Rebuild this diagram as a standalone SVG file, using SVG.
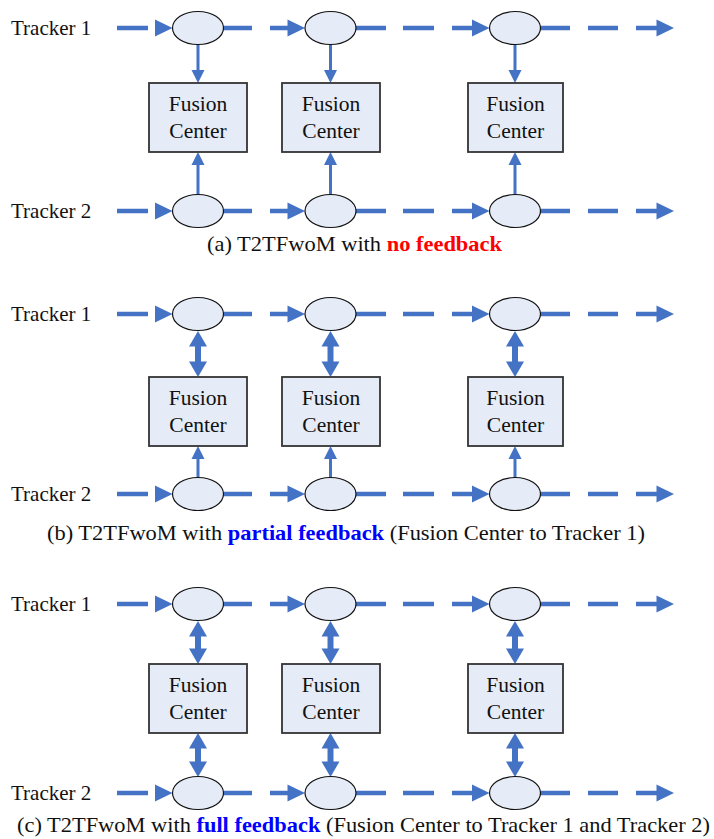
<svg xmlns="http://www.w3.org/2000/svg" xmlns:xlink="http://www.w3.org/1999/xlink" width="714" height="839" viewBox="0 0 714 839">
<style>
.lbl{font-family:"Liberation Serif","Times New Roman",serif;font-size:21px;fill:#111}
.fc{font-family:"Liberation Serif","Times New Roman",serif;font-size:21.5px;fill:#111;text-anchor:middle}
.cap{font-family:"Liberation Serif","Times New Roman",serif;font-size:21.5px;fill:#111}
.red{fill:#FF0000;font-weight:bold}
.blu{fill:#0000FF;font-weight:bold}
.node{fill:#E6ECF7;stroke:#111;stroke-width:1.2}
.box{fill:#E6ECF7;stroke:#333;stroke-width:1.8}
.hl{fill:none;stroke:#4472C4;stroke-width:4.5}
.tl{fill:none;stroke:#4472C4;stroke-width:3}
.dl{fill:none;stroke:#4472C4;stroke-width:6}
.ah{fill:#4472C4}
</style>
<defs>
<polygon id="ah" class="ah" points="0,0 -17.5,-8.5 -17.5,8.5"/>
<polygon id="tv" class="ah" points="0,0 -6.5,-13 6.5,-13"/>
<polygon id="dv" class="ah" points="0,0 -9,-15.5 9,-15.5"/>
</defs>

<g id="connectors">
  <!-- horizontal dashed tracker lines -->
  <path class="hl" d="M117,28H148M223,28H252M270,28H290M355,28H386M403,28H434M452,28H474M540,28H570M588,28H618M636,28H659"/>
  <path class="hl" d="M117,211H148M223,211H252M270,211H290M355,211H386M403,211H434M452,211H474M540,211H570M588,211H618M636,211H659"/>
  <path class="hl" d="M117,314H148M223,314H252M270,314H290M355,314H386M403,314H434M452,314H474M540,314H570M588,314H618M636,314H659"/>
  <path class="hl" d="M117,494H148M223,494H252M270,494H290M355,494H386M403,494H434M452,494H474M540,494H570M588,494H618M636,494H659"/>
  <path class="hl" d="M117,604H148M223,604H252M270,604H290M355,604H386M403,604H434M452,604H474M540,604H570M588,604H618M636,604H659"/>
  <path class="hl" d="M117,793H148M223,793H252M270,793H290M355,793H386M403,793H434M452,793H474M540,793H570M588,793H618M636,793H659"/>
  <g>
    <use href="#ah" x="172.5" y="28"/><use href="#ah" x="305" y="28"/><use href="#ah" x="489.5" y="28"/><use href="#ah" x="674" y="28"/>
    <use href="#ah" x="172.5" y="211"/><use href="#ah" x="305" y="211"/><use href="#ah" x="489.5" y="211"/><use href="#ah" x="674" y="211"/>
    <use href="#ah" x="172.5" y="314"/><use href="#ah" x="305" y="314"/><use href="#ah" x="489.5" y="314"/><use href="#ah" x="674" y="314"/>
    <use href="#ah" x="172.5" y="494"/><use href="#ah" x="305" y="494"/><use href="#ah" x="489.5" y="494"/><use href="#ah" x="674" y="494"/>
    <use href="#ah" x="172.5" y="604"/><use href="#ah" x="305" y="604"/><use href="#ah" x="489.5" y="604"/><use href="#ah" x="674" y="604"/>
    <use href="#ah" x="172.5" y="793"/><use href="#ah" x="305" y="793"/><use href="#ah" x="489.5" y="793"/><use href="#ah" x="674" y="793"/>
  </g>
  <!-- (a) thin arrows -->
  <path class="tl" d="M198,44V72M330.5,44V72M515,44V72"/>
  <use href="#tv" x="198" y="83"/><use href="#tv" x="330.5" y="83"/><use href="#tv" x="515" y="83"/>
  <path class="tl" d="M198,195V163M330.5,195V163M515,195V163"/>
  <use href="#tv" transform="translate(198,152) rotate(180)"/><use href="#tv" transform="translate(330.5,152) rotate(180)"/><use href="#tv" transform="translate(515,152) rotate(180)"/>
  <!-- (b) double arrows up, thin arrows bottom -->
  <path class="dl" d="M198,345V363M330.5,345V363M515,345V363"/>
  <use href="#dv" transform="translate(198,331) rotate(180)"/><use href="#dv" x="198" y="377"/>
  <use href="#dv" transform="translate(330.5,331) rotate(180)"/><use href="#dv" x="330.5" y="377"/>
  <use href="#dv" transform="translate(515,331) rotate(180)"/><use href="#dv" x="515" y="377"/>
  <path class="tl" d="M198,478V457M330.5,478V457M515,478V457"/>
  <use href="#tv" transform="translate(198,446) rotate(180)"/><use href="#tv" transform="translate(330.5,446) rotate(180)"/><use href="#tv" transform="translate(515,446) rotate(180)"/>
  <!-- (c) double arrows -->
  <path class="dl" d="M198,635V650M330.5,635V650M515,635V650M198,747V763M330.5,747V763M515,747V763"/>
  <use href="#dv" transform="translate(198,621) rotate(180)"/><use href="#dv" x="198" y="664"/>
  <use href="#dv" transform="translate(330.5,621) rotate(180)"/><use href="#dv" x="330.5" y="664"/>
  <use href="#dv" transform="translate(515,621) rotate(180)"/><use href="#dv" x="515" y="664"/>
  <use href="#dv" transform="translate(198,733) rotate(180)"/><use href="#dv" x="198" y="777"/>
  <use href="#dv" transform="translate(330.5,733) rotate(180)"/><use href="#dv" x="330.5" y="777"/>
  <use href="#dv" transform="translate(515,733) rotate(180)"/><use href="#dv" x="515" y="777"/>
</g>

<!-- Panel (a) -->
<g id="a-tracker1-label"><text class="lbl" x="11" y="35">Tracker 1</text></g>
<g id="a-tracker2-label"><text class="lbl" x="11" y="218">Tracker 2</text></g>
<g id="a-t1-e1"><ellipse class="node" cx="198" cy="28" rx="25.5" ry="16.5"/></g>
<g id="a-t1-e2"><ellipse class="node" cx="330.5" cy="28" rx="25.5" ry="16.5"/></g>
<g id="a-t1-e3"><ellipse class="node" cx="515" cy="28" rx="25.5" ry="16.5"/></g>
<g id="a-t2-e1"><ellipse class="node" cx="198" cy="211" rx="25.5" ry="16.5"/></g>
<g id="a-t2-e2"><ellipse class="node" cx="330.5" cy="211" rx="25.5" ry="16.5"/></g>
<g id="a-t2-e3"><ellipse class="node" cx="515" cy="211" rx="25.5" ry="16.5"/></g>
<g id="a-fc1"><rect class="box" x="149" y="83" width="98" height="69"/><text class="fc" x="198" y="111">Fusion</text><text class="fc" x="198" y="138">Center</text></g>
<g id="a-fc2"><rect class="box" x="282" y="83" width="98" height="69"/><text class="fc" x="331" y="111">Fusion</text><text class="fc" x="331" y="138">Center</text></g>
<g id="a-fc3"><rect class="box" x="468" y="83" width="95" height="69"/><text class="fc" x="515.5" y="111">Fusion</text><text class="fc" x="515.5" y="138">Center</text></g>
<g id="a-caption"><text class="cap" x="207" y="251" textLength="295" lengthAdjust="spacingAndGlyphs">(a) T2TFwoM with <tspan class="red">no feedback</tspan></text></g>

<!-- Panel (b) -->
<g id="b-tracker1-label"><text class="lbl" x="11" y="321">Tracker 1</text></g>
<g id="b-tracker2-label"><text class="lbl" x="11" y="501">Tracker 2</text></g>
<g id="b-t1-e1"><ellipse class="node" cx="198" cy="314" rx="25.5" ry="16.5"/></g>
<g id="b-t1-e2"><ellipse class="node" cx="330.5" cy="314" rx="25.5" ry="16.5"/></g>
<g id="b-t1-e3"><ellipse class="node" cx="515" cy="314" rx="25.5" ry="16.5"/></g>
<g id="b-t2-e1"><ellipse class="node" cx="198" cy="494" rx="25.5" ry="16.5"/></g>
<g id="b-t2-e2"><ellipse class="node" cx="330.5" cy="494" rx="25.5" ry="16.5"/></g>
<g id="b-t2-e3"><ellipse class="node" cx="515" cy="494" rx="25.5" ry="16.5"/></g>
<g id="b-fc1"><rect class="box" x="149" y="377" width="98" height="69"/><text class="fc" x="198" y="405">Fusion</text><text class="fc" x="198" y="432">Center</text></g>
<g id="b-fc2"><rect class="box" x="282" y="377" width="98" height="69"/><text class="fc" x="331" y="405">Fusion</text><text class="fc" x="331" y="432">Center</text></g>
<g id="b-fc3"><rect class="box" x="468" y="377" width="95" height="69"/><text class="fc" x="515.5" y="405">Fusion</text><text class="fc" x="515.5" y="432">Center</text></g>
<g id="b-caption"><text class="cap" x="47" y="540" textLength="598" lengthAdjust="spacingAndGlyphs">(b) T2TFwoM with <tspan class="blu">partial feedback</tspan> (Fusion Center to Tracker 1)</text></g>

<!-- Panel (c) -->
<g id="c-tracker1-label"><text class="lbl" x="11" y="611">Tracker 1</text></g>
<g id="c-tracker2-label"><text class="lbl" x="11" y="800">Tracker 2</text></g>
<g id="c-t1-e1"><ellipse class="node" cx="198" cy="604" rx="25.5" ry="16.5"/></g>
<g id="c-t1-e2"><ellipse class="node" cx="330.5" cy="604" rx="25.5" ry="16.5"/></g>
<g id="c-t1-e3"><ellipse class="node" cx="515" cy="604" rx="25.5" ry="16.5"/></g>
<g id="c-t2-e1"><ellipse class="node" cx="198" cy="793" rx="25.5" ry="16.5"/></g>
<g id="c-t2-e2"><ellipse class="node" cx="330.5" cy="793" rx="25.5" ry="16.5"/></g>
<g id="c-t2-e3"><ellipse class="node" cx="515" cy="793" rx="25.5" ry="16.5"/></g>
<g id="c-fc1"><rect class="box" x="149" y="664" width="98" height="69"/><text class="fc" x="198" y="692">Fusion</text><text class="fc" x="198" y="719">Center</text></g>
<g id="c-fc2"><rect class="box" x="282" y="664" width="98" height="69"/><text class="fc" x="331" y="692">Fusion</text><text class="fc" x="331" y="719">Center</text></g>
<g id="c-fc3"><rect class="box" x="468" y="664" width="95" height="69"/><text class="fc" x="515.5" y="692">Fusion</text><text class="fc" x="515.5" y="719">Center</text></g>
<g id="c-caption"><text class="cap" x="17" y="832" textLength="693" lengthAdjust="spacingAndGlyphs">(c) T2TFwoM with <tspan class="blu">full feedback</tspan> (Fusion Center to Tracker 1 and Tracker 2)</text></g>
</svg>
